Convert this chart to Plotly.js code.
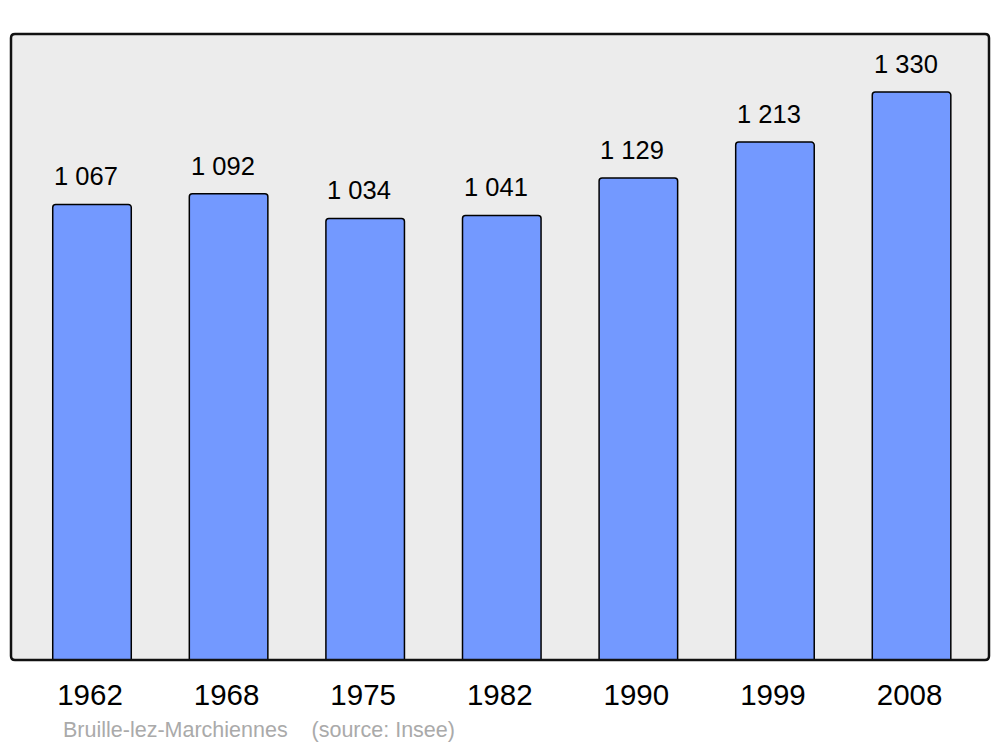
<!DOCTYPE html>
<html>
<head>
<meta charset="utf-8">
<script src="https://cdn.plot.ly/plotly-3.0.1.min.js"></script>
<style>html,body{margin:0;padding:0;background:#fff;}#chart{width:1000px;height:747px;}</style>
</head>
<body>
<div id="chart"></div>
<script>
const years = ["1962", "1968", "1975", "1982", "1990", "1999", "2008"];
const population = [1067, 1092, 1034, 1041, 1129, 1213, 1330];
const commune = "Bruille-lez-Marchiennes";
const sourceLabel = "(source: Insee)";

function fmt(v) {
  const s = String(v);
  return s.replace(/\B(?=(\d{3})+(?!\d))/g, " ");
}

const trace = {
  type: "bar",
  x: years,
  y: population,
  width: 0.575,
  marker: {color: "#7399ff", line: {color: "#000", width: 1.5}, cornerradius: 3},
  hoverinfo: "none"
};

const annotations = years.map((yr, i) => ({
  x: i, y: population[i], xref: "x", yref: "y",
  text: fmt(population[i]), showarrow: false,
  yanchor: "bottom", yshift: 12, xshift: -6,
  font: {family: "Liberation Sans, Arial, sans-serif", size: 25.5, color: "#000"}
}));

const W = 1000, H = 747, ml = 11, mr = 11, mt = 34, mb = 87;
const pw = W - ml - mr, ph = H - mt - mb;
annotations.push({
  x: (61 - ml) / pw, y: (H - mb - 730) / ph, xref: "paper", yref: "paper",
  text: commune + "&nbsp;&nbsp;&nbsp;&nbsp;" + sourceLabel,
  showarrow: false, xanchor: "left", yanchor: "middle",
  font: {family: "Liberation Sans, Arial, sans-serif", size: 21.5, color: "#aaaaaa"}
});

const rx = 4 / pw, ry = 4 / ph;
const borderPath = `M ${rx} 0 L ${1 - rx} 0 Q 1 0 1 ${ry} L 1 ${1 - ry} Q 1 1 ${1 - rx} 1 L ${rx} 1 Q 0 1 0 ${1 - ry} L 0 ${ry} Q 0 0 ${rx} 0 Z`;

const layout = {
  width: W, height: H,
  margin: {l: ml, r: mr, t: mt, b: mb},
  paper_bgcolor: "#ffffff",
  plot_bgcolor: "#ececec",
  showlegend: false,
  xaxis: {
    type: "category", range: [-0.593, 6.567],
    showgrid: false, zeroline: false, showline: false,
    ticks: "outside", ticklen: 9, tickcolor: "rgba(0,0,0,0)",
    ticklabelshift: -2,
    tickfont: {family: "Liberation Sans, Arial, sans-serif", size: 29.5, color: "#000"},
    fixedrange: true
  },
  yaxis: {
    range: [0, 1466], showgrid: false, zeroline: false, showline: false,
    showticklabels: false, ticks: "", fixedrange: true
  },
  shapes: [{
    type: "path", xref: "paper", yref: "paper", path: borderPath,
    line: {color: "#111", width: 2.5}, fillcolor: "rgba(0,0,0,0)", layer: "above"
  }],
  annotations: annotations
};

Plotly.newPlot("chart", [trace], layout, {displayModeBar: false, staticPlot: true});
</script>
</body>
</html>
